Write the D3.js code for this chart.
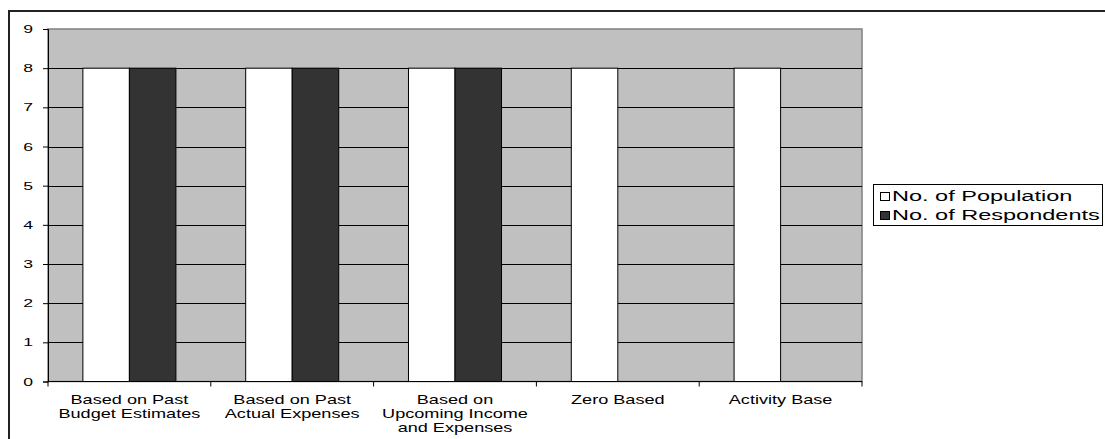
<!DOCTYPE html>
<html>
<head>
<meta charset="utf-8">
<script src="https://cdn.jsdelivr.net/npm/d3@7"></script>
<style>
  html, body { margin: 0; padding: 0; background: #fff; }
  svg { display: block; }
  text { font-family: "Liberation Sans", Arial, sans-serif; fill: #000; }
</style>
</head>
<body>
<svg id="chart" width="1105" height="439"></svg>
<script>
// Budgeting approaches and counts per group
const categories = [
  ["Based on Past", "Budget Estimates"],
  ["Based on Past", "Actual Expenses"],
  ["Based on", "Upcoming Income", "and Expenses"],
  ["Zero Based"],
  ["Activity Base"]
];
const seriesNames = ["No. of Population", "No. of Respondents"];
const population = [8, 8, 8, 8, 8];
const respondents = [8, 8, 8, 0, 0];
const yTicks = [0, 1, 2, 3, 4, 5, 6, 7, 8, 9];

const seriesColors = ["#ffffff", "#333333"];
const seriesValues = [population, respondents];
const catKeys = categories.map(c => c.join(" "));

const svg = d3.select("#chart");

// Text is drawn horizontally widened
function stretchedText(g, x, y, str, size, sx, anchor) {
  return g.append("text")
    .attr("transform", `translate(${x},${y}) scale(${sx},1)`)
    .attr("text-anchor", anchor)
    .style("font-size", size + "px")
    .text(str);
}

// Outer chart frame
svg.append("rect")
  .attr("x", 9).attr("y", 11)
  .attr("width", 1110).attr("height", 450)
  .attr("fill", "none").attr("stroke", "#222").attr("stroke-width", 2);

const plot = { left: 48, right: 862, top: 29, bottom: 381.5 };

const x = d3.scaleBand().domain(catKeys).range([plot.left, plot.right]);
const xInner = d3.scaleBand().domain(seriesNames)
  .range([0, x.bandwidth()]).paddingInner(0).paddingOuter(0.75);
const y = d3.scaleLinear().domain([0, 9]).range([plot.bottom, plot.top]);

// Plot area background
svg.append("rect")
  .attr("x", plot.left).attr("y", plot.top)
  .attr("width", plot.right - plot.left).attr("height", plot.bottom - plot.top)
  .attr("fill", "#c0c0c0").attr("stroke", "#808080").attr("stroke-width", 1.5);

// Horizontal gridlines
svg.append("g").selectAll("line")
  .data(yTicks.filter(t => t > 0 && t < 9))
  .join("line")
  .attr("x1", plot.left).attr("x2", plot.right)
  .attr("y1", d => Math.round(y(d)) + 0.5).attr("y2", d => Math.round(y(d)) + 0.5)
  .attr("stroke", "#000").attr("stroke-width", 1);

// Bars
seriesNames.forEach((s, si) => {
  svg.append("g").selectAll("rect")
    .data(seriesValues[si].map((v, i) => ({ v, k: catKeys[i] })).filter(d => d.v > 0))
    .join("rect")
    .attr("x", d => x(d.k) + xInner(s))
    .attr("y", d => y(d.v))
    .attr("width", xInner.bandwidth())
    .attr("height", d => y(0) - y(d.v))
    .attr("fill", seriesColors[si])
    .attr("stroke", "#000").attr("stroke-width", 1);
});

// Y axis
const yAxis = svg.append("g")
  .attr("transform", `translate(${plot.left},0)`)
  .call(d3.axisLeft(y).tickValues(yTicks).tickSize(5).tickFormat(() => ""));
yAxis.select(".domain").attr("stroke", "#000");
yAxis.selectAll(".tick line").attr("stroke", "#000");
yTicks.forEach(t => {
  stretchedText(svg, 33, y(t) + 4, String(t), 11, 1.6, "end");
});

// X axis
const xAxis = svg.append("g")
  .attr("transform", `translate(0,${plot.bottom})`)
  .call(d3.axisBottom(x).tickSize(0).tickFormat(() => ""));
xAxis.select(".domain").attr("stroke", "#000").attr("d", `M${plot.left},0H${plot.right}`);
xAxis.selectAll(".tick line").remove();
svg.append("g").selectAll("line")
  .data(catKeys.map(k => x(k)).concat([plot.right]))
  .join("line")
  .attr("x1", d => d).attr("x2", d => d)
  .attr("y1", plot.bottom).attr("y2", plot.bottom + 5)
  .attr("stroke", "#000");

categories.forEach((lines, i) => {
  const cx = x(catKeys[i]) + x.bandwidth() / 2;
  lines.forEach((ln, j) => {
    stretchedText(svg, cx, 404 + j * 14, ln, 12.5, 1.45, "middle");
  });
});

// Legend
const lg = svg.append("g");
lg.append("rect")
  .attr("x", 873.5).attr("y", 184.5).attr("width", 229).attr("height", 41)
  .attr("fill", "#fff").attr("stroke", "#000").attr("stroke-width", 1);
seriesNames.forEach((s, i) => {
  lg.append("rect")
    .attr("x", 880.5).attr("y", 192.5 + i * 19)
    .attr("width", 9).attr("height", 8)
    .attr("fill", seriesColors[i]).attr("stroke", "#000");
  stretchedText(lg, 892, 201 + i * 19, s, 14, 1.68, "start");
});
</script>
</body>
</html>
